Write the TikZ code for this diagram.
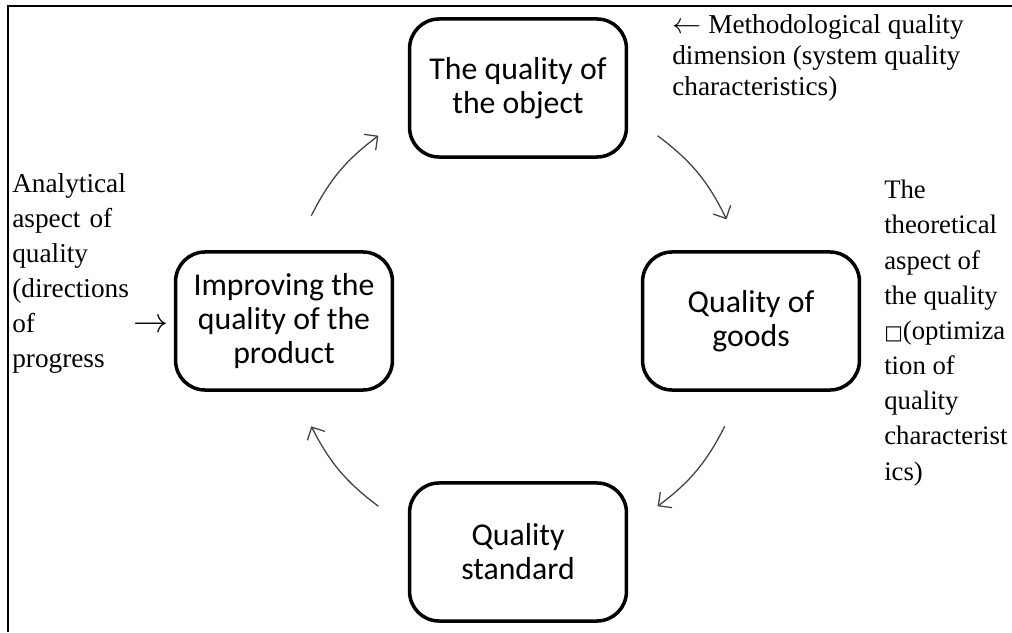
\documentclass[tikz,border=0pt]{standalone}
\usepackage{fontspec}
\setmainfont{Liberation Serif}
\newfontfamily\boxfont{Carlito}
\newfontfamily\symfont{DejaVu Sans}
\usetikzlibrary{arrows.meta,positioning}

\tikzset{
    stage/.style={draw, line width=2.5pt, rounded corners=21pt,
        minimum width=5.42cm, minimum height=3.45cm, inner sep=0pt,
        align=center, font=\boxfont\fontsize{22.6}{24.2}\selectfont},
    flow/.style={draw=black!75, line width=0.9pt,
        -{Straight Barb[length=7pt,width=14pt]}},
    note/.style={anchor=north west, inner sep=0pt, align=left,
        font=\fontsize{19.4}{25}\selectfont},
}

\begin{document}
\begin{tikzpicture}[x=0.025cm,y=0.025cm]
    \useasboundingbox (0,0) rectangle (1012,632);
    \draw [line width=1.4pt] (8,0) -- (8,626) -- (1012,626);

    % the four stages of the cycle
    \coordinate (hub) at (518,311);
    \node[stage] (object) at (518,544) {The quality of\\the object};
    \node[stage] (goods) at (751,311) {Quality of\\goods};
    \node[stage] (standard) at (518,80) {Quality\\standard};
    \node[stage] (improve) at (284,311) {Improving the\\quality of the\\product};

    % arrows run clockwise on a circle round the hub
    \path
        ([shift={(153:232)}]hub) coordinate (upleft)
        ([shift={(127:232)}]hub) coordinate (upleft')
        ([shift={(53:232)}]hub) coordinate (upright)
        ([shift={(26:232)}]hub) coordinate (upright')
        ([shift={(-27:232)}]hub) coordinate (downright)
        ([shift={(-53:232)}]hub) coordinate (downright')
        ([shift={(233:232)}]hub) coordinate (downleft)
        ([shift={(207:232)}]hub) coordinate (downleft')
    ;
    \draw [flow] (upleft) to [out=63,in=217] (upleft');
    \draw [flow] (upright) to [out=-37,in=116] (upright');
    \draw [flow] (downright) to [out=-117,in=37] (downright');
    \draw [flow] (downleft) to [out=143,in=-63] (downleft');

    % aspects written beside the cycle
    \node[note, font=\fontsize{19.4}{22}\selectfont] (method) at (672,618)
        {$\leftarrow$ Methodological quality\\dimension (system quality\\characteristics)};
    \node[note, font=\fontsize{19}{25}\selectfont] (theory) at (884,452)
        {The\\theoretical\\aspect of\\the quality\\{\symfont\fontsize{14}{14}\selectfont □}(optimiza\\tion of\\quality\\characterist\\ics)};
    \node[note, text width=3.9cm] (analysis) at (12,459)
        {Analytical\\aspect of\\quality\\(directions\\of\hfill{\fontsize{24}{25}\selectfont$\rightarrow$}\\progress};
\end{tikzpicture}
\end{document}
